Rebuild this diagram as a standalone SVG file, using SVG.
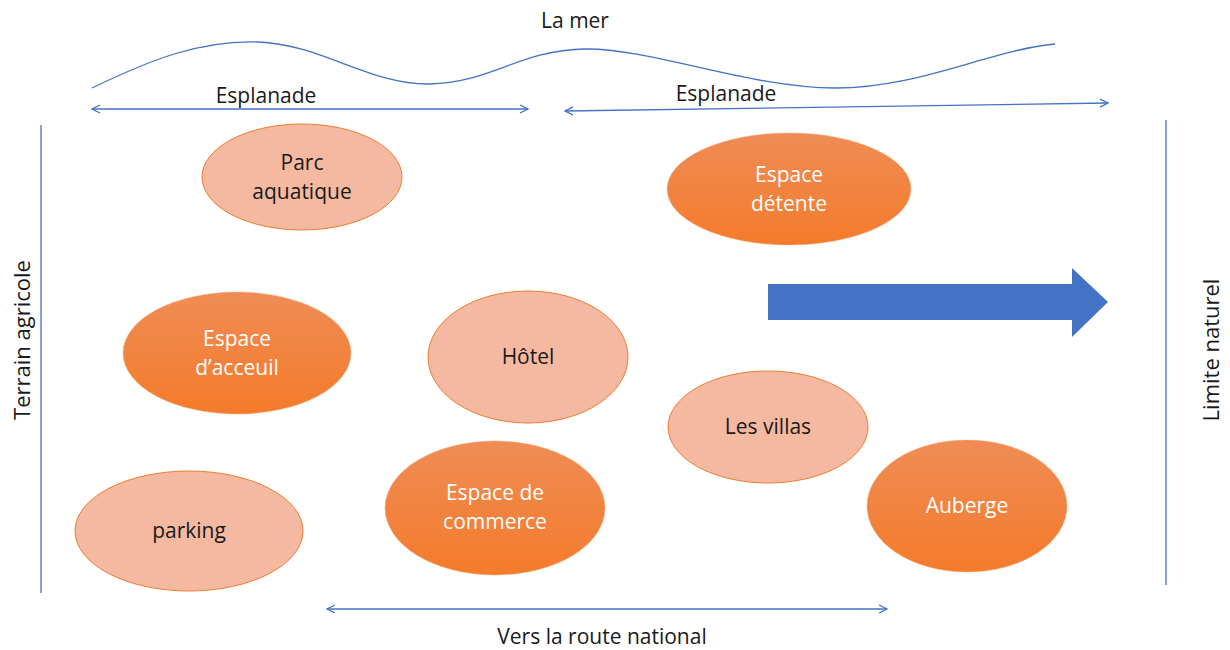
<svg xmlns="http://www.w3.org/2000/svg" width="1230" height="650" viewBox="0 0 1230 650">
<style>
.t{font-family:"Open Sans","Liberation Sans",sans-serif;font-size:21px;fill:#1a1a1a;text-anchor:middle}
.s{font-size:22px}
.w{fill:#ffffff}
.light{fill:#F4B9A0;stroke:#ED7D31;stroke-width:1}
.dark{fill:url(#og);stroke:#F4B183;stroke-width:0.5}
.ln{stroke:#4472C4;stroke-width:1.3;fill:none}
</style>
<defs>
<linearGradient id="og" x1="0" y1="0" x2="0" y2="1">
<stop offset="0" stop-color="#EF8C55"/>
<stop offset="1" stop-color="#F47B2B"/>
</linearGradient>
<marker id="ah" viewBox="0 0 10 10" refX="9" refY="5" markerWidth="10" markerHeight="10" markerUnits="userSpaceOnUse" orient="auto-start-reverse">
<path d="M1,1 L9,5 L1,9" fill="none" stroke="#4472C4" stroke-width="1.3"/>
</marker>
</defs>
<rect width="1230" height="650" fill="#ffffff"/>
<g id="connectors">
<path class="ln" d="M92,88 C150,60 200,40 258,42 C320,44 370,85 430,84 C490,83 520,50 585,49 C650,48 750,88 835,88 C920,88 990,50 1055,44"/>
<line class="ln" x1="92" y1="109" x2="528" y2="109" marker-start="url(#ah)" marker-end="url(#ah)"/>
<line class="ln" x1="565" y1="111" x2="1108" y2="103" marker-start="url(#ah)" marker-end="url(#ah)"/>
<line class="ln" x1="327" y1="609" x2="887" y2="609" marker-start="url(#ah)" marker-end="url(#ah)"/>
<line class="ln" x1="41" y1="125" x2="41" y2="593"/>
<line class="ln" x1="1166" y1="120" x2="1166" y2="585"/>
<path d="M768,284 L1072,284 L1072,268 L1108,302 L1072,337 L1072,320 L768,320 Z" fill="#4472C4"/>
</g>
<g id="labels">
<text class="t" x="575" y="28">La mer</text>
<text class="t" x="266" y="103">Esplanade</text>
<text class="t" x="726" y="101">Esplanade</text>
<text class="t" x="602" y="644">Vers la route national</text>
<text class="t s" transform="translate(30,340) rotate(-90)">Terrain agricole</text>
<text class="t s" transform="translate(1219,350) rotate(-90)">Limite naturel</text>
</g>
<g id="parc">
<ellipse class="light" cx="302" cy="177" rx="100" ry="53"/>
<text class="t" x="302" y="170">Parc</text>
<text class="t" x="302" y="199">aquatique</text>
</g>
<g id="detente">
<ellipse class="dark" cx="789" cy="189" rx="122" ry="56"/>
<text class="t w" x="789" y="182">Espace</text>
<text class="t w" x="789" y="211">détente</text>
</g>
<g id="accueil">
<ellipse class="dark" cx="237" cy="353" rx="114" ry="61"/>
<text class="t w" x="237" y="346">Espace</text>
<text class="t w" x="237" y="375">d’acceuil</text>
</g>
<g id="hotel">
<ellipse class="light" cx="528" cy="357" rx="100" ry="66"/>
<text class="t" x="528" y="364">Hôtel</text>
</g>
<g id="villas">
<ellipse class="light" cx="768" cy="427" rx="100" ry="56"/>
<text class="t" x="768" y="434">Les villas</text>
</g>
<g id="parking">
<ellipse class="light" cx="189" cy="531" rx="114" ry="60"/>
<text class="t" x="189" y="538">parking</text>
</g>
<g id="commerce">
<ellipse class="dark" cx="495" cy="508" rx="110" ry="67"/>
<text class="t w" x="495" y="500">Espace de</text>
<text class="t w" x="495" y="529">commerce</text>
</g>
<g id="auberge">
<ellipse class="dark" cx="967" cy="506" rx="100" ry="66"/>
<text class="t w" x="967" y="513">Auberge</text>
</g>
</svg>
